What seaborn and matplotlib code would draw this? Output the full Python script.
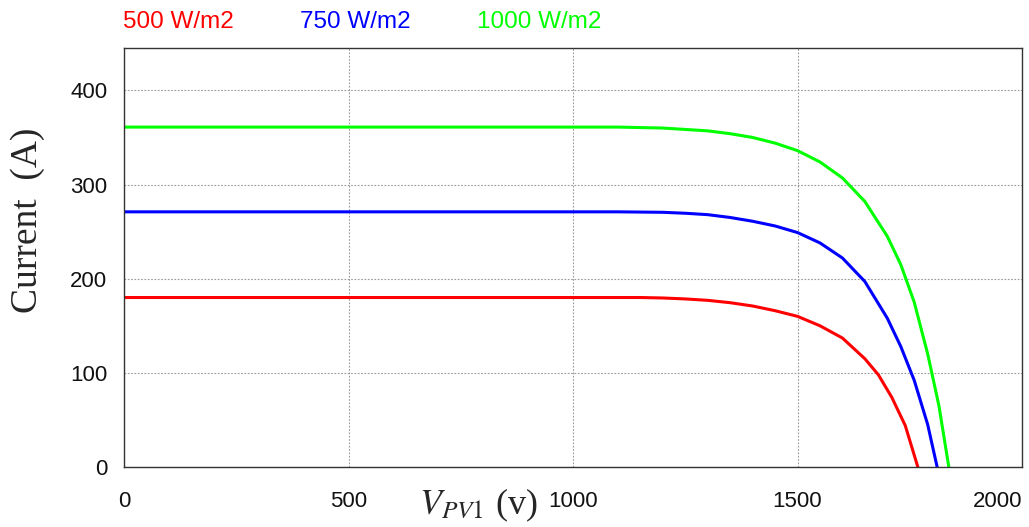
import matplotlib
matplotlib.use("Agg")
import matplotlib.pyplot as plt
import seaborn as sns
import pandas as pd

# Data (voltage V, current A)
v_500 = [0, 500, 1000, 1150, 1200, 1250, 1300, 1350, 1400, 1450, 1500, 1550, 1600,
         1650, 1680, 1710, 1740, 1768]
i_500 = [180, 180, 180, 180, 179.5, 178.5, 177, 174.5, 171, 166, 160, 150, 137,
         115, 98, 74, 44, 0]

v_750 = [0, 500, 1000, 1100, 1200, 1250, 1300, 1350, 1400, 1450, 1500, 1550, 1600,
         1650, 1700, 1730, 1760, 1790, 1811]
i_750 = [271, 271, 271, 271, 270.5, 269.5, 268, 265, 261, 256, 249, 238, 222,
         197, 158, 128, 92, 45, 0]

v_1000 = [0, 500, 1000, 1100, 1200, 1250, 1300, 1350, 1400, 1450, 1500, 1550, 1600,
          1650, 1700, 1730, 1760, 1790, 1815, 1837]
i_1000 = [361, 361, 361, 361, 360, 358.5, 357, 354, 350, 344, 336, 324, 307,
          282, 245, 215, 175, 120, 65, 0]

labels = ["500 W/m2", "750 W/m2", "1000 W/m2"]
colors = ["#ff0000", "#0000ff", "#00ff00"]

x_ticks = [0, 500, 1000, 1500, 2000]
y_ticks = [0, 100, 200, 300, 400]

rows = []
for lab, vs, cs in zip(labels, [v_500, v_750, v_1000], [i_500, i_750, i_1000]):
    for v, c in zip(vs, cs):
        rows.append({"V": v, "I": c, "irr": lab})
df = pd.DataFrame(rows)

sns.set_theme(style="white")
plt.rcParams["font.family"] = ["Liberation Sans", "DejaVu Sans"]

fig = plt.figure(figsize=(10.29, 5.27), dpi=100)
ax = fig.add_axes([124 / 1029, 1 - 467 / 527, (1022 - 124) / 1029, (467 - 48) / 527])

sns.lineplot(data=df, x="V", y="I", hue="irr", palette=dict(zip(labels, colors)),
             sort=False, estimator=None, units="irr", linewidth=2.2, legend=False, ax=ax)

ax.set_xlim(0, 2000)
ax.set_ylim(0, 445)
ax.set_xticks(x_ticks)
ax.set_yticks(y_ticks)
ax.set_xticklabels([str(t) for t in x_ticks], fontsize=16, color="#111111")
ax.set_yticklabels([str(t) for t in y_ticks], fontsize=16, color="#111111")
ax.get_xticklabels()[-1].set_horizontalalignment("right")
ax.tick_params(axis="x", length=0, pad=17)
ax.tick_params(axis="y", length=0, pad=12)
ax.grid(True, color="#999999", linestyle=(0, (1.5, 1.5)), linewidth=0.8)
for s in ax.spines.values():
    s.set_color("#333333")
    s.set_linewidth(1.0)
ax.set_xlabel("")
ax.set_ylabel("")

fig.text(28 / 1029, 1 - 220 / 527, "Current  (A)", family="Liberation Serif", fontsize=27,
         rotation=90, ha="center", va="center")

fig.text(478 / 1029, 1 - 505 / 527, r"$V_{PV1}$ (v)", fontsize=26, ha="center", va="center",
         family="Liberation Serif", math_fontfamily="stix")

xs = [123, 300, 477]
for lab, col, x in zip(labels, colors, xs):
    fig.text(x / 1029, 1 - 22 / 527, lab, color=col, fontsize=17.5, ha="left", va="center")

fig.savefig("out.png", dpi=100)
